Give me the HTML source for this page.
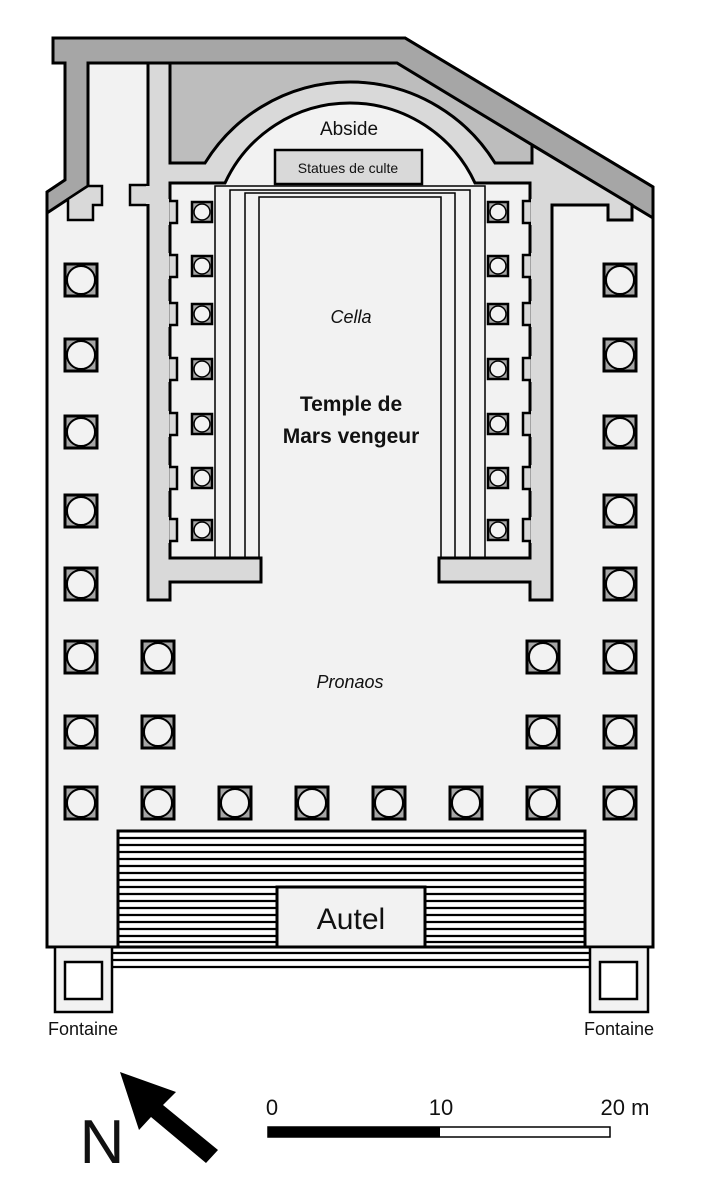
<!DOCTYPE html>
<html><head><meta charset="utf-8"><style>
html,body{margin:0;padding:0;background:#fff;}
svg{display:block;}
text{font-family:"Liberation Sans","DejaVu Sans",sans-serif;fill:#111;}
</style></head><body>
<svg width="715" height="1200" viewBox="0 0 715 1200" xmlns="http://www.w3.org/2000/svg">
<defs>
<g id="col"><rect x="-16" y="-16" width="32" height="32" fill="#a6a6a6" stroke="#000" stroke-width="3"/><circle r="14" fill="#f2f2f2" stroke="#000" stroke-width="2"/></g>
<g id="sc"><rect x="-10" y="-10" width="20" height="20" fill="#a6a6a6" stroke="#000" stroke-width="2.5"/><circle r="8" fill="#f2f2f2" stroke="#000" stroke-width="1.5"/></g>
</defs>
<!-- precinct -->
<polygon points="53,38 405,38 653,187 653,947 47,947 47,192 65,180 65,63 53,63" fill="#f2f2f2" stroke="#000" stroke-width="3"/>
<!-- medium gray -->
<path d="M170,63 L397,63 L532,145 L532,163 L495,163 A170.3,170.3 0 0 0 205,163 L170,163 Z" fill="#bdbdbd" stroke="#000" stroke-width="2.5"/>
<!-- dark gray band -->
<polygon points="53,38 405,38 653,187 653,218 397,63 88,63 88,186 47,213 47,192 65,180 65,63 53,63" fill="#a6a6a6" stroke="#000" stroke-width="3" stroke-linejoin="miter"/>
<!-- left small pier -->
<polygon points="88,186 102,186 102,205 93,205 93,220 68,220 68,199" fill="#d9d9d9" stroke="#000" stroke-width="2.5"/>
<!-- left pier from temple wall -->
<rect x="130" y="185" width="20" height="20" fill="#d9d9d9" stroke="#000" stroke-width="2.5"/>
<!-- temple walls -->
<path d="M532,145 L632,205 L632,220 L608,220 L608,205 L552,205 L552,600 L530,600 L530,582 L439,582 L439,558 L530,558 L530,183 L475,183 A137.7,137.7 0 0 0 225,183 L170,183 L170,558 L261,558 L261,582 L170,582 L170,600 L148,600 L148,63 L170,63 L170,163 L205,163 A170.3,170.3 0 0 1 495,163 L532,163 Z" fill="#d9d9d9" stroke="#000" stroke-width="3" stroke-linejoin="miter"/>
<rect x="146" y="186" width="6" height="18" fill="#d9d9d9"/>
<!-- pilasters -->
<g fill="#d9d9d9" stroke="#000" stroke-width="2.5">
<rect x="168" y="201" width="9" height="22"/><rect x="168" y="255" width="9" height="22"/><rect x="168" y="303" width="9" height="22"/><rect x="168" y="358" width="9" height="22"/><rect x="168" y="413" width="9" height="22"/><rect x="168" y="467" width="9" height="22"/><rect x="168" y="519" width="9" height="22"/>
<rect x="523" y="201" width="9" height="22"/><rect x="523" y="255" width="9" height="22"/><rect x="523" y="303" width="9" height="22"/><rect x="523" y="358" width="9" height="22"/><rect x="523" y="413" width="9" height="22"/><rect x="523" y="467" width="9" height="22"/><rect x="523" y="519" width="9" height="22"/>
</g>
<g fill="#d9d9d9">
<rect x="160" y="199" width="9" height="26"/><rect x="160" y="253" width="9" height="26"/><rect x="160" y="301" width="9" height="26"/><rect x="160" y="356" width="9" height="26"/><rect x="160" y="411" width="9" height="26"/><rect x="160" y="465" width="9" height="26"/><rect x="160" y="517" width="9" height="26"/>
<rect x="531" y="199" width="9" height="26"/><rect x="531" y="253" width="9" height="26"/><rect x="531" y="301" width="9" height="26"/><rect x="531" y="356" width="9" height="26"/><rect x="531" y="411" width="9" height="26"/><rect x="531" y="465" width="9" height="26"/><rect x="531" y="517" width="9" height="26"/>
</g>
<!-- cella lines -->
<g fill="none" stroke="#000" stroke-width="1.5">
<path d="M215,558 V186 H485 V558"/><path d="M230,558 V190 H470 V558"/><path d="M245,558 V193 H455 V558"/><path d="M259,558 V197 H441 V558"/>
</g>
<!-- statues -->
<rect x="275" y="150" width="147" height="34" fill="#d9d9d9" stroke="#000" stroke-width="2.5"/>
<!-- cella columns -->
<g>
<use href="#sc" x="202" y="212"/><use href="#sc" x="202" y="266"/><use href="#sc" x="202" y="314"/><use href="#sc" x="202" y="369"/><use href="#sc" x="202" y="424"/><use href="#sc" x="202" y="478"/><use href="#sc" x="202" y="530"/>
<use href="#sc" x="498" y="212"/><use href="#sc" x="498" y="266"/><use href="#sc" x="498" y="314"/><use href="#sc" x="498" y="369"/><use href="#sc" x="498" y="424"/><use href="#sc" x="498" y="478"/><use href="#sc" x="498" y="530"/>
</g>
<!-- outer columns -->
<g>
<use href="#col" x="81" y="280"/><use href="#col" x="81" y="355"/><use href="#col" x="81" y="432"/><use href="#col" x="81" y="511"/><use href="#col" x="81" y="584"/><use href="#col" x="81" y="657"/><use href="#col" x="81" y="732"/>
<use href="#col" x="620" y="280"/><use href="#col" x="620" y="355"/><use href="#col" x="620" y="432"/><use href="#col" x="620" y="511"/><use href="#col" x="620" y="584"/><use href="#col" x="620" y="657"/><use href="#col" x="620" y="732"/>
<use href="#col" x="158" y="657"/><use href="#col" x="158" y="732"/><use href="#col" x="543" y="657"/><use href="#col" x="543" y="732"/>
<use href="#col" x="81" y="803"/><use href="#col" x="158" y="803"/><use href="#col" x="235" y="803"/><use href="#col" x="312" y="803"/><use href="#col" x="389" y="803"/><use href="#col" x="466" y="803"/><use href="#col" x="543" y="803"/><use href="#col" x="620" y="803"/>
</g>
<!-- steps -->
<rect x="118" y="831" width="467" height="116" fill="#fff" stroke="#000" stroke-width="3"/>
<g stroke="#000" stroke-width="2.2">
<line x1="118" y1="838" x2="585" y2="838"/><line x1="118" y1="845" x2="585" y2="845"/><line x1="118" y1="852" x2="585" y2="852"/><line x1="118" y1="859" x2="585" y2="859"/><line x1="118" y1="866" x2="585" y2="866"/><line x1="118" y1="873" x2="585" y2="873"/><line x1="118" y1="880" x2="585" y2="880"/><line x1="118" y1="887" x2="585" y2="887"/><line x1="118" y1="894" x2="585" y2="894"/><line x1="118" y1="901" x2="585" y2="901"/><line x1="118" y1="908" x2="585" y2="908"/><line x1="118" y1="915" x2="585" y2="915"/><line x1="118" y1="922" x2="585" y2="922"/><line x1="118" y1="929" x2="585" y2="929"/><line x1="118" y1="936" x2="585" y2="936"/><line x1="118" y1="942" x2="585" y2="942"/>
<line x1="112" y1="953" x2="590" y2="953"/><line x1="112" y1="960" x2="590" y2="960"/><line x1="112" y1="967" x2="590" y2="967"/>
</g>
<rect x="277" y="887" width="148" height="60" fill="#f2f2f2" stroke="#000" stroke-width="3"/>
<!-- fontaines -->
<rect x="55" y="947" width="57" height="65" fill="#f2f2f2" stroke="#000" stroke-width="2.5"/>
<rect x="65" y="962" width="37" height="37" fill="#fff" stroke="#000" stroke-width="2.5"/>
<rect x="590" y="947" width="58" height="65" fill="#f2f2f2" stroke="#000" stroke-width="2.5"/>
<rect x="600" y="962" width="37" height="37" fill="#fff" stroke="#000" stroke-width="2.5"/>
<!-- labels -->
<text x="349" y="135" font-size="19" text-anchor="middle">Abside</text>
<text x="348" y="173" font-size="14" text-anchor="middle">Statues de culte</text>
<text x="351" y="323" font-size="18" font-style="italic" text-anchor="middle">Cella</text>
<text x="351" y="411" font-size="21" font-weight="bold" text-anchor="middle">Temple de</text>
<text x="351" y="443" font-size="21" font-weight="bold" text-anchor="middle">Mars vengeur</text>
<text x="350" y="688" font-size="18" font-style="italic" text-anchor="middle">Pronaos</text>
<text x="351" y="929" font-size="30" text-anchor="middle">Autel</text>
<text x="83" y="1035" font-size="18" text-anchor="middle">Fontaine</text>
<text x="619" y="1035" font-size="18" text-anchor="middle">Fontaine</text>
<!-- north -->
<text x="102" y="1163" font-size="62" text-anchor="middle">N</text>
<polygon points="120,1072 176,1092 163,1105 218,1150 206,1163 151,1117 139,1130" fill="#000"/>
<!-- scale -->
<rect x="268" y="1127" width="342" height="10" fill="#fff" stroke="#000" stroke-width="1.5"/>
<rect x="268" y="1127" width="172" height="10" fill="#000"/>
<text x="272" y="1115" font-size="22" text-anchor="middle">0</text>
<text x="441" y="1115" font-size="22" text-anchor="middle">10</text>
<text x="625" y="1115" font-size="22" text-anchor="middle">20 m</text>
</svg>
</body></html>
